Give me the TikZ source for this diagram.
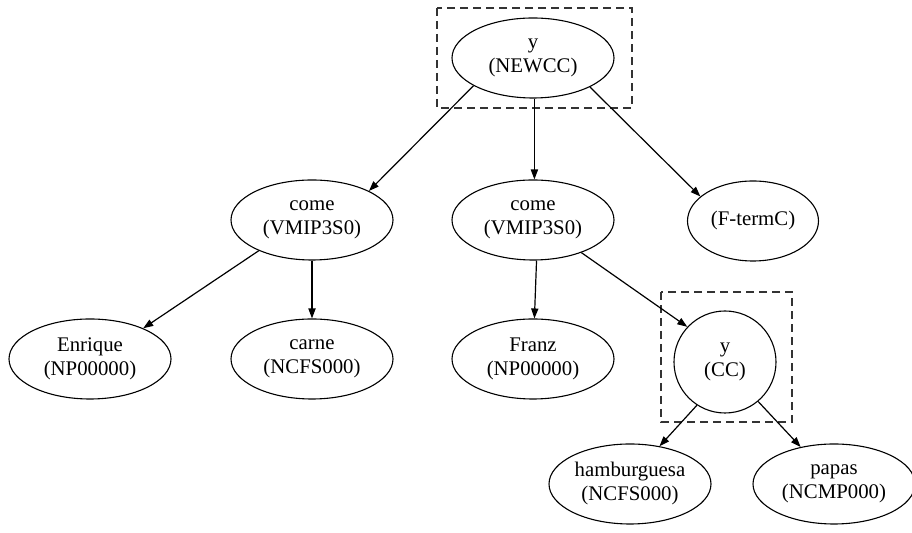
\documentclass[tikz,border=0pt]{standalone}
\usepackage{fontspec}
\setmainfont{Liberation Serif}
\usetikzlibrary{arrows.meta,shapes.geometric}
\begin{document}
\begin{tikzpicture}[x=0.5pt,y=-0.5pt,
  tag/.style={ellipse,draw,line width=0.55pt,minimum width=81pt,minimum height=40pt,
    inner sep=0pt,align=center,font=\fontsize{10.4}{12}\selectfont},
  roundtag/.style={circle,draw,line width=0.55pt,minimum size=51pt,inner sep=0pt,
    align=center,font=\fontsize{10.4}{12}\selectfont},
  link/.style={line width=0.6pt,-{Triangle[length=5pt,width=3.6pt]}},
  frame/.style={draw,dash pattern=on 4pt off 2.5pt,line width=0.6pt,black!80}]
\useasboundingbox (0,0) rectangle (912,533);
% tree nodes
\node[tag] (root) at (533,58) {y\\(NEWCC)};
\node[tag] (come1) at (312,220) {come\\(VMIP3S0)};
\node[tag] (come2) at (533,220) {come\\(VMIP3S0)};
\node[tag,minimum width=65.5pt] (fterm) at (753,221) {(F-termC)};
\node[tag] (enrique) at (90,359) {Enrique\\(NP00000)};
\node[tag] (carne) at (312,359) {carne\\(NCFS000)};
\node[tag] (franz) at (533,359) {Franz\\(NP00000)};
\node[roundtag] (cc) at (725,362) {y\\(CC)};
\node[tag] (hamb) at (630,484) {hamburguesa\\(NCFS000)};
\node[tag] (papas) at (834,484) {papas\\(NCMP000)};
% dashed frames around the coordinators
\path[frame] (437,8) rectangle (632,108);
\path[frame] (661,292) rectangle (792,422);
% dependency links
\draw[link] (root.205) -- (come1.27);
\draw[link] (root.272) -- (come2.88);
\draw[link] (root.333) -- (fterm.155);
\draw[link] (come1.210) -- (enrique.30);
\draw[link] (come1.south) -- (carne.north);
\draw[link] (come2.275) -- (franz.88);
\draw[link] (come2.326) -- (cc.137);
\draw[link] (cc.237) -- (hamb.52);
\draw[link] (cc.310) -- (papas.132);
\end{tikzpicture}
\end{document}
